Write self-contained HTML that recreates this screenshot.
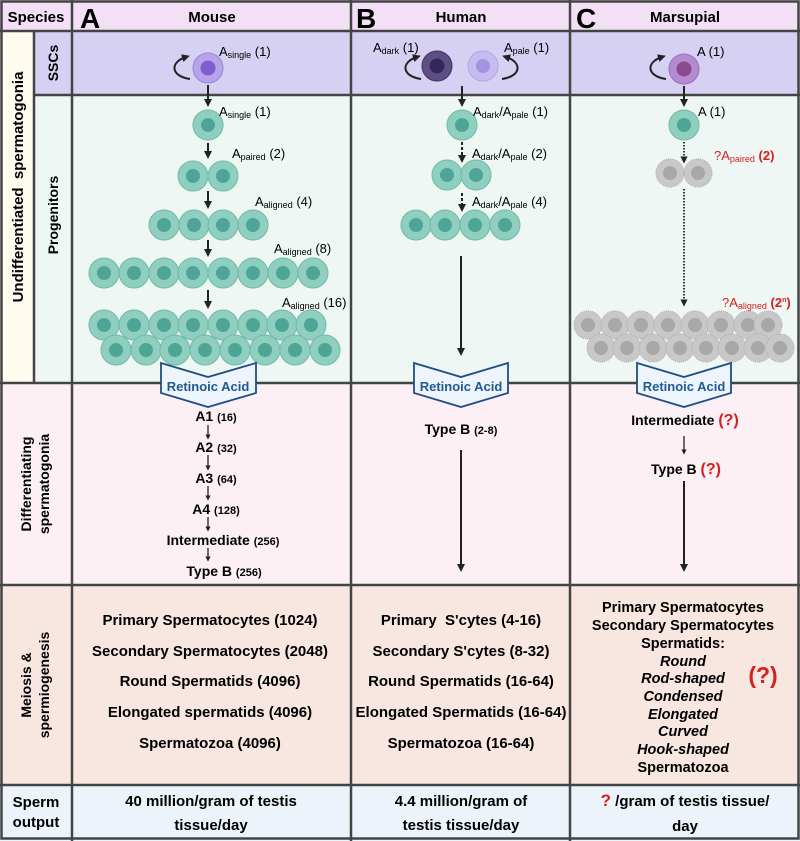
<!DOCTYPE html>
<html><head><meta charset="utf-8"><style>
html,body{margin:0;padding:0;background:#fff}
svg{display:block}
text{font-family:"Liberation Sans",Arial,sans-serif}
.b{font-weight:bold}
</style></head><body>
<svg width="800" height="841" viewBox="0 0 800 841" xmlns="http://www.w3.org/2000/svg">
<defs>
<marker id="ah2" markerWidth="4" markerHeight="4" refX="2" refY="2" orient="auto" markerUnits="strokeWidth"><path d="M0,0 L4,2 L0,4 z" fill="#222"/></marker>
<g id="c"><circle r="15" fill="#8ecfc0" stroke="#72b8a8" stroke-width="1"/><circle r="7" fill="#4fa595"/></g>
<g id="g"><circle r="14" fill="#c8c8c8" stroke="#b0b0b0" stroke-width="1.2" stroke-dasharray="1 1"/><circle r="7" fill="#a8a8a8"/></g>
</defs>
<rect x="0" y="0" width="800" height="31" fill="#f3dff6"/>
<rect x="0" y="31" width="34" height="352" fill="#fffcef"/>
<rect x="34" y="31" width="766" height="64" fill="#d6d0f2"/>
<rect x="34" y="95" width="766" height="288" fill="#eef7f3"/>
<rect x="0" y="383" width="800" height="202" fill="#fcf0f5"/>
<rect x="0" y="585" width="800" height="200" fill="#f8e6e1"/>
<rect x="0" y="785" width="800" height="56" fill="#edf3fb"/>
<g stroke="#444" stroke-width="2.5" fill="none">
<rect x="1.5" y="1.5" width="797" height="837"/>
<line x1="0" y1="31" x2="800" y2="31"/>
<line x1="34" y1="95" x2="800" y2="95"/>
<line x1="0" y1="383" x2="800" y2="383"/>
<line x1="0" y1="585" x2="800" y2="585"/>
<line x1="0" y1="785" x2="800" y2="785"/>
<line x1="34" y1="31" x2="34" y2="383"/>
<line x1="72" y1="0" x2="72" y2="841"/>
<line x1="351" y1="0" x2="351" y2="841"/>
<line x1="570" y1="0" x2="570" y2="841"/>
</g>
<text x="36" y="22" font-size="15" class="b" text-anchor="middle">Species</text>
<text x="80" y="28" font-size="28" class="b">A</text>
<text x="212" y="22" font-size="15" class="b" text-anchor="middle">Mouse</text>
<text x="356" y="28" font-size="28" class="b">B</text>
<text x="461" y="22" font-size="15" class="b" text-anchor="middle">Human</text>
<text x="576" y="28" font-size="28" class="b">C</text>
<text x="685" y="22" font-size="15" class="b" text-anchor="middle">Marsupial</text>
<text transform="translate(23,187) rotate(-90)" font-size="15" class="b" text-anchor="middle" xml:space="preserve">Undifferentiated  spermatogonia</text>
<text transform="translate(58,63) rotate(-90)" font-size="14" class="b" text-anchor="middle">SSCs</text>
<text transform="translate(58,215) rotate(-90)" font-size="14" class="b" text-anchor="middle">Progenitors</text>
<text transform="translate(31,484) rotate(-90)" font-size="14" class="b" text-anchor="middle">Differentiating</text>
<text transform="translate(49,484) rotate(-90)" font-size="14" class="b" text-anchor="middle">spermatogonia</text>
<text transform="translate(31,685) rotate(-90)" font-size="14" class="b" text-anchor="middle">Meiosis &amp;</text>
<text transform="translate(49,685) rotate(-90)" font-size="14" class="b" text-anchor="middle">spermiogenesis</text>
<text x="36" y="807" font-size="15" class="b" text-anchor="middle">Sperm</text>
<text x="36" y="827" font-size="15" class="b" text-anchor="middle">output</text>

<g stroke="#222" stroke-width="2" fill="none">
<path d="M190,79 C170,76 170,62 186,57" marker-end="url(#ah2)"/>
<path d="M421,79 C401,76 401,62 417,57" marker-end="url(#ah2)"/>
<path d="M502,79 C522,76 522,62 506,57" marker-end="url(#ah2)"/>
<path d="M666,79 C646,76 646,62 662,57" marker-end="url(#ah2)"/>
</g>
<circle cx="208" cy="68" r="15" fill="#b6a3ea" stroke="#9a85d8"/><circle cx="208" cy="68" r="7.5" fill="#7c5fcc"/>
<circle cx="437" cy="66" r="15" fill="#5d4f85" stroke="#3f3462"/><circle cx="437" cy="66" r="7.5" fill="#34285a"/>
<circle cx="483" cy="66" r="15" fill="#c6bcf0" stroke="#b3a6e6"/><circle cx="483" cy="66" r="7" fill="#a394e0"/>
<circle cx="684" cy="69" r="15" fill="#b48bd0" stroke="#9a70bb"/><circle cx="684" cy="69" r="7.5" fill="#8a4a8e"/>
<text x="219" y="56" font-size="13">A<tspan font-size="9" dy="2">single</tspan><tspan dy="-2"> (1)</tspan></text>
<text x="373" y="52" font-size="13">A<tspan font-size="9" dy="2">dark</tspan><tspan dy="-2"> (1)</tspan></text>
<text x="504" y="52" font-size="13">A<tspan font-size="9" dy="2">pale</tspan><tspan dy="-2"> (1)</tspan></text>
<text x="697" y="56" font-size="13">A (1)</text>

<g stroke="#222" stroke-width="2" fill="none">
<line x1="208" y1="85" x2="208" y2="103" marker-end="url(#ah2)"/>
<line x1="208" y1="143" x2="208" y2="155" marker-end="url(#ah2)"/>
<line x1="208" y1="191" x2="208" y2="205" marker-end="url(#ah2)"/>
<line x1="208" y1="240" x2="208" y2="253" marker-end="url(#ah2)"/>
<line x1="208" y1="290" x2="208" y2="305" marker-end="url(#ah2)"/>
<line x1="462" y1="86" x2="462" y2="103" marker-end="url(#ah2)"/>
<line x1="462" y1="142" x2="462" y2="159" marker-end="url(#ah2)" stroke-dasharray="3 2"/>
<line x1="462" y1="193" x2="462" y2="208" marker-end="url(#ah2)" stroke-dasharray="3 2"/>
<line x1="461" y1="256" x2="461" y2="352" marker-end="url(#ah2)"/>
<line x1="684" y1="86" x2="684" y2="103" marker-end="url(#ah2)"/>
<line x1="684" y1="142" x2="684" y2="160" marker-end="url(#ah2)" stroke-width="1.8" stroke-dasharray="1.5 1.5"/>
<line x1="684" y1="189" x2="684" y2="303" marker-end="url(#ah2)" stroke-width="1.8" stroke-dasharray="1.5 1.5"/>
<line x1="461" y1="450" x2="461" y2="568" marker-end="url(#ah2)"/>
<line x1="684" y1="436" x2="684" y2="452" stroke-width="1.3" marker-end="url(#ah2)"/>
<line x1="684" y1="481" x2="684" y2="568" marker-end="url(#ah2)"/>
<g stroke-width="1.3">
<line x1="208" y1="425" x2="208" y2="437" marker-end="url(#ah2)"/>
<line x1="208" y1="455" x2="208" y2="468" marker-end="url(#ah2)"/>
<line x1="208" y1="486" x2="208" y2="498" marker-end="url(#ah2)"/>
<line x1="208" y1="517" x2="208" y2="529" marker-end="url(#ah2)"/>
<line x1="208" y1="548" x2="208" y2="559" marker-end="url(#ah2)"/>
</g>
</g>

<use href="#c" x="208" y="125"/>
<use href="#c" x="193" y="176"/><use href="#c" x="223" y="176"/>
<use href="#c" x="164" y="225"/><use href="#c" x="194" y="225"/><use href="#c" x="223" y="225"/><use href="#c" x="253" y="225"/>
<g>
<use href="#c" x="104" y="273"/><use href="#c" x="134" y="273"/><use href="#c" x="164" y="273"/><use href="#c" x="193" y="273"/><use href="#c" x="223" y="273"/><use href="#c" x="253" y="273"/><use href="#c" x="283" y="273"/><use href="#c" x="313" y="273"/>
<use href="#c" x="104" y="325"/><use href="#c" x="134" y="325"/><use href="#c" x="164" y="325"/><use href="#c" x="193" y="325"/><use href="#c" x="223" y="325"/><use href="#c" x="253" y="325"/><use href="#c" x="282" y="325"/><use href="#c" x="311" y="325"/>
<use href="#c" x="116" y="350"/><use href="#c" x="146" y="350"/><use href="#c" x="175" y="350"/><use href="#c" x="205" y="350"/><use href="#c" x="235" y="350"/><use href="#c" x="265" y="350"/><use href="#c" x="295" y="350"/><use href="#c" x="325" y="350"/>
</g>
<text x="219" y="116" font-size="13">A<tspan font-size="9" dy="2">single</tspan><tspan dy="-2"> (1)</tspan></text>
<text x="232" y="158" font-size="13">A<tspan font-size="9" dy="2">paired</tspan><tspan dy="-2"> (2)</tspan></text>
<text x="255" y="206" font-size="13">A<tspan font-size="9" dy="2">aligned</tspan><tspan dy="-2"> (4)</tspan></text>
<text x="274" y="253" font-size="13">A<tspan font-size="9" dy="2">aligned</tspan><tspan dy="-2"> (8)</tspan></text>
<text x="282" y="307" font-size="13">A<tspan font-size="9" dy="2">aligned</tspan><tspan dy="-2"> (16)</tspan></text>

<use href="#c" x="462" y="125"/>
<use href="#c" x="447" y="175"/><use href="#c" x="476" y="175"/>
<use href="#c" x="416" y="225"/><use href="#c" x="445" y="225"/><use href="#c" x="475" y="225"/><use href="#c" x="505" y="225"/>
<text x="473" y="116" font-size="13">A<tspan font-size="9" dy="2">dark</tspan><tspan dy="-2">/A</tspan><tspan font-size="9" dy="2">pale</tspan><tspan dy="-2"> (1)</tspan></text>
<text x="472" y="158" font-size="13">A<tspan font-size="9" dy="2">dark</tspan><tspan dy="-2">/A</tspan><tspan font-size="9" dy="2">pale</tspan><tspan dy="-2"> (2)</tspan></text>
<text x="472" y="206" font-size="13">A<tspan font-size="9" dy="2">dark</tspan><tspan dy="-2">/A</tspan><tspan font-size="9" dy="2">pale</tspan><tspan dy="-2"> (4)</tspan></text>

<use href="#c" x="684" y="125"/>
<text x="698" y="116" font-size="13">A (1)</text>
<use href="#g" x="670" y="173"/><use href="#g" x="698" y="173"/>
<text x="714" y="160" font-size="13" fill="#d42020">?A<tspan font-size="9" dy="2">paired</tspan><tspan dy="-2" class="b"> (2)</tspan></text>
<g>
<use href="#g" x="588" y="325"/><use href="#g" x="615" y="325"/><use href="#g" x="641" y="325"/><use href="#g" x="668" y="325"/><use href="#g" x="695" y="325"/><use href="#g" x="721" y="325"/><use href="#g" x="748" y="325"/><use href="#g" x="768" y="325"/>
<use href="#g" x="601" y="348"/><use href="#g" x="627" y="348"/><use href="#g" x="653" y="348"/><use href="#g" x="680" y="348"/><use href="#g" x="706" y="348"/><use href="#g" x="732" y="348"/><use href="#g" x="758" y="348"/><use href="#g" x="780" y="348"/>
</g>
<text x="722" y="307" font-size="13" fill="#d42020">?A<tspan font-size="9" dy="2">aligned</tspan><tspan dy="-2" class="b"> (2</tspan><tspan font-size="7" dy="-5" class="b">n</tspan><tspan dy="5" class="b">)</tspan></text>

<g fill="#eef4fb" stroke="#1f4e85" stroke-width="1.8">
<polygon points="161,363 208,377 256,363 256,393 208,407 161,393"/>
<polygon points="414,363 461,377 508,363 508,393 461,407 414,393"/>
<polygon points="637,363 684,377 731,363 731,393 684,407 637,393"/>
</g>
<g font-size="13" class="b" fill="#1f5a92" text-anchor="middle">
<text x="208" y="391">Retinoic Acid</text>
<text x="461" y="391">Retinoic Acid</text>
<text x="684" y="391">Retinoic Acid</text>
</g>

<g font-size="14" class="b" text-anchor="middle">
<text x="216" y="421">A1 <tspan font-size="11">(16)</tspan></text>
<text x="216" y="452">A2 <tspan font-size="11">(32)</tspan></text>
<text x="216" y="483">A3 <tspan font-size="11">(64)</tspan></text>
<text x="216" y="514">A4 <tspan font-size="11">(128)</tspan></text>
<text x="223" y="545">Intermediate <tspan font-size="11">(256)</tspan></text>
<text x="224" y="576">Type B <tspan font-size="11">(256)</tspan></text>
<text x="461" y="434">Type B <tspan font-size="11">(2-8)</tspan></text>
<text x="685" y="425">Intermediate <tspan fill="#d42020" font-size="16">(?)</tspan></text>
<text x="686" y="474">Type B <tspan fill="#d42020" font-size="16">(?)</tspan></text>
</g>

<g font-size="15" class="b" text-anchor="middle">
<text x="210" y="625">Primary Spermatocytes (1024)</text>
<text x="210" y="656">Secondary Spermatocytes (2048)</text>
<text x="210" y="686">Round Spermatids (4096)</text>
<text x="210" y="717">Elongated spermatids (4096)</text>
<text x="210" y="748">Spermatozoa (4096)</text>
<text x="461" y="625" xml:space="preserve">Primary  S'cytes (4-16)</text>
<text x="461" y="656">Secondary S'cytes (8-32)</text>
<text x="461" y="686">Round Spermatids (16-64)</text>
<text x="461" y="717">Elongated Spermatids (16-64)</text>
<text x="461" y="748">Spermatozoa (16-64)</text>
</g>
<g font-size="14.5" class="b" text-anchor="middle">
<text x="683" y="612">Primary Spermatocytes</text>
<text x="683" y="630">Secondary Spermatocytes</text>
<text x="683" y="648">Spermatids:</text>
<g font-style="italic">
<text x="683" y="666">Round</text>
<text x="683" y="683">Rod-shaped</text>
<text x="683" y="701">Condensed</text>
<text x="683" y="719">Elongated</text>
<text x="683" y="736">Curved</text>
<text x="683" y="754">Hook-shaped</text>
</g>
<text x="683" y="772">Spermatozoa</text>
<text x="763" y="683" font-size="23" fill="#d42020">(?)</text>
</g>

<g font-size="15" class="b" text-anchor="middle">
<text x="211" y="806">40 million/gram of testis</text>
<text x="211" y="830">tissue/day</text>
<text x="461" y="806">4.4 million/gram of</text>
<text x="461" y="830">testis tissue/day</text>
<text x="685" y="806"><tspan fill="#d42020" font-size="17">?</tspan> /gram of testis tissue/</text>
<text x="685" y="831">day</text>
</g>
</svg>
</body></html>
